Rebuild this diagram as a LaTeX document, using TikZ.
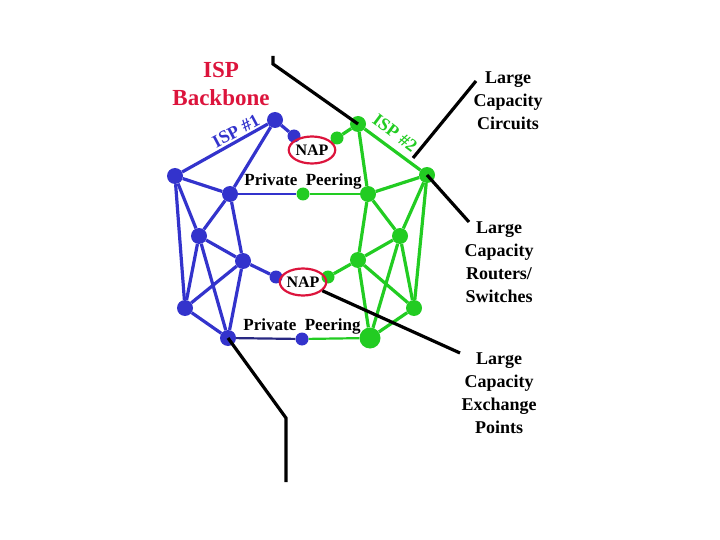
\documentclass[tikz,border=0pt]{standalone}
\usepackage{fontspec}
\setmainfont{Liberation Serif}
\usetikzlibrary{shapes.geometric}
\definecolor{ispblue}{RGB}{51,51,204}
\definecolor{ispgreen}{RGB}{34,204,34}
\definecolor{ispred}{RGB}{220,20,60}
\definecolor{peerblue}{RGB}{40,40,130}
\tikzset{
  bignode/.style={circle,inner sep=0pt,minimum size=16pt},
  smallnode/.style={circle,inner sep=0pt,minimum size=13pt},
  blueline/.style={ispblue,line width=3.2pt},
  greenline/.style={ispgreen,line width=3.2pt},
  pointer/.style={black,line width=3.2pt},
  nap/.style={ellipse,draw=ispred,line width=2.2pt,minimum width=44pt,minimum height=27pt,inner sep=0pt,font=\fontsize{16}{16}\selectfont\bfseries},
  peerlabel/.style={inner sep=0pt,font=\fontsize{17}{17}\selectfont\bfseries},
  sidelabel/.style={align=center,inner sep=0pt,font=\fontsize{18}{23}\selectfont\bfseries}
}
\begin{document}
\begin{tikzpicture}[x=1pt,y=-1pt]
\useasboundingbox (0,0) rectangle (720,540);

% ISP #1
\node[bignode,fill=ispblue] (b1) at (275,120) {};
\node[smallnode,fill=ispblue] (b2) at (294,136) {};
\node[bignode,fill=ispblue] (b3) at (175,176) {};
\node[bignode,fill=ispblue] (b4) at (230,194) {};
\node[bignode,fill=ispblue] (b5) at (199,236) {};
\node[bignode,fill=ispblue] (b6) at (243,261) {};
\node[smallnode,fill=ispblue] (b7) at (276,277) {};
\node[bignode,fill=ispblue] (b8) at (185,308) {};
\node[bignode,fill=ispblue] (b9) at (228,338) {};
\node[smallnode,fill=ispblue] (b10) at (302,339) {};

% ISP #2
\node[bignode,fill=ispgreen] (g1) at (358,124) {};
\node[smallnode,fill=ispgreen] (g2) at (337,138) {};
\node[bignode,fill=ispgreen] (g3) at (427,175) {};
\node[bignode,fill=ispgreen] (g4) at (368,194) {};
\node[bignode,fill=ispgreen] (g5) at (400,236) {};
\node[bignode,fill=ispgreen] (g6) at (358,260) {};
\node[smallnode,fill=ispgreen] (g7) at (328,277) {};
\node[bignode,fill=ispgreen] (g8) at (414,308) {};
\node[bignode,fill=ispgreen,minimum width=21pt] (g9) at (370,338) {};
\node[smallnode,fill=ispgreen] (g10) at (303,194) {};

% exchange points
\node[nap] (nap1) at (312,150) {NAP};
\node[nap] (nap2) at (303,282) {NAP};

\foreach \a/\b in {1/2,1/3,1/4,3/4,3/5,3/8,4/5,4/6,5/6,5/8,5/9,6/7,6/8,6/9,8/9}
{
  \draw[blueline] (b\a) -- (b\b);
  \draw[greenline] (g\a) -- (g\b);
}

% private peering
\draw[ispblue,line width=2.2pt] (b4) -- (g10);
\draw[ispgreen,line width=2.2pt] (g10) -- (g4);
\draw[peerblue,line width=2.2pt] (b9) -- (b10);
\draw[ispgreen,line width=2.2pt] (b10) -- (g9);

\node[peerlabel] (peer1) at (303,181) {Private~~Peering};
\node[peerlabel] (peer2) at (302,326) {Private~~Peering};

\node[ispred,inner sep=0pt,font=\fontsize{23}{28}\selectfont\bfseries,align=center] (title) at (221,84) {ISP\\Backbone};
\node[ispblue,inner sep=0pt,font=\fontsize{18}{18}\selectfont\bfseries,rotate=28] (isp1) at (236,131) {ISP \#1};
\node[ispgreen,inner sep=0pt,font=\fontsize{18}{18}\selectfont\bfseries,rotate=-37] (isp2) at (395,133) {ISP \#2};

% pointers
\coordinate (circA) at (273,56);
\coordinate (circB) at (273,64);
\coordinate (circC) at (476,81);
\coordinate (circD) at (413,158);
\coordinate (rout) at (469,222);
\coordinate (exch) at (460,353);
\coordinate (pntA) at (286,418);
\coordinate (pntB) at (286,482);

\draw[pointer] (circA) -- (circB) -- (g1.center);
\draw[pointer] (circC) -- (circD);
\draw[pointer] (g3.center) -- (rout);
\draw[pointer] (nap2) -- (exch);
\draw[pointer] (b9.center) -- (pntA) -- (pntB);

\node[sidelabel] (circuits) at (508,101) {Large\\Capacity\\Circuits};
\node[sidelabel] (routers) at (499,262) {Large\\Capacity\\Routers/\\Switches};
\node[sidelabel] (points) at (499,393) {Large\\Capacity\\Exchange\\Points};

\end{tikzpicture}
\end{document}
